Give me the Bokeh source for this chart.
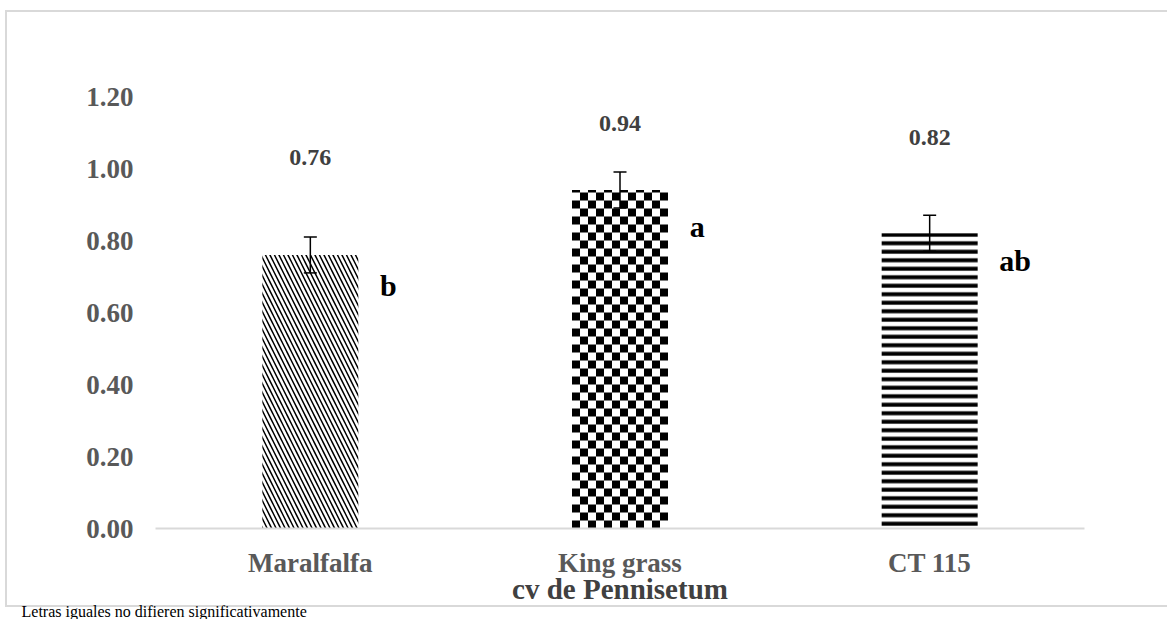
from bokeh.plotting import figure
from bokeh.models import (ColumnDataSource, Whisker, TeeHead, FixedTicker, PrintfTickFormatter,
                          Title, Range1d)
from bokeh.core.properties import value
from bokeh.embed import file_html
from bokeh.resources import INLINE

# ---- data ----
categories = ["Maralfalfa", "King grass", "CT 115"]
means = [0.76, 0.94, 0.82]
errors = [0.05, 0.05, 0.05]
mean_labels = ["0.76", "0.94", "0.82"]
label_heights = [1.03, 1.125, 1.085]
letters = ["b", "a", "ab"]
letter_heights = [0.675, 0.84, 0.745]
y_ticks = [0.0, 0.2, 0.4, 0.6, 0.8, 1.0, 1.2]
x_title = "cv de Pennisetum"
footnote = "Letras iguales no difieren significativamente"

FONT = "Liberation Serif"
BAR_W = 0.31

# category i is centred at i + 0.5 on a numeric axis
xs = [i + 0.5 for i in range(len(categories))]

p = figure(x_range=Range1d(0, len(categories)), y_range=(0, 1.4), width=1167, height=619,
           output_backend="svg", toolbar_location=None,
           min_border_left=155, min_border_right=83, min_border_top=24, min_border_bottom=91)
p.grid.visible = False
p.outline_line_color = None
p.background_fill_color = None
p.border_fill_color = None
# light grey chart-area border drawn behind the transparent canvas
p.styles = {
    "background-color": "white",
    "background-image": ", ".join(["linear-gradient(#d9d9d9, #d9d9d9)"] * 3),
    "background-size": "1170px 2px, 2px 597px, 1170px 2px",
    "background-position": "5px 10px, 5px 10px, 5px 605px",
    "background-repeat": "no-repeat",
}

# Maralfalfa: diagonal lines ; CT 115: horizontal stripes
p.vbar(x=[xs[0]], top=[means[0]], width=BAR_W, fill_color="white", line_color=None,
       hatch_color="black", hatch_pattern="left_diagonal_line", hatch_scale=9, hatch_weight=1.5)
p.vbar(x=[xs[2]], top=[means[2]], width=BAR_W, fill_color="white", line_color=None,
       hatch_color="black", hatch_pattern="horizontal_line", hatch_scale=8.5, hatch_weight=4)

# King grass: checkerboard, cells computed from the bar's value
k = 1
n_cols = 12
cell_w = BAR_W / n_cols
cell_h = cell_w * (929 / 3) / 360.0
left0 = xs[k] - BAR_W / 2
L, R, B, T = [], [], [], []
row = 0
while row * cell_h < means[k] - 1e-9:
    b = row * cell_h
    t = min(b + cell_h, means[k])
    for c in range(n_cols):
        if (row + c) % 2 == 0:
            L.append(left0 + c * cell_w)
            R.append(left0 + (c + 1) * cell_w)
            B.append(b)
            T.append(t)
    row += 1
p.vbar(x=[xs[k]], top=[means[k]], width=BAR_W, fill_color="white", line_color=None)
p.quad(left=L, right=R, bottom=B, top=T, fill_color="black", line_color=None)

src = ColumnDataSource(dict(
    x=xs,
    xl=[x + 0.225 for x in xs],
    upper=[m + e for m, e in zip(means, errors)],
    lower=[m - e for m, e in zip(means, errors)],
    lab_y=label_heights, lab=mean_labels,
    let_y=letter_heights, let=letters,
))
w = Whisker(source=src, base="x", upper="upper", lower="lower", dimension="height",
            line_color="black", line_width=1.5, level="overlay",
            upper_head=TeeHead(size=13, line_color="black", line_width=1.5),
            lower_head=TeeHead(size=13, line_color="black", line_width=1.5))
p.add_layout(w)

p.text(x="x", y="lab_y", text="lab", source=src, text_font=value(FONT),
       text_font_style="bold", text_font_size="24px", text_color="#404040",
       text_align="center", text_baseline="alphabetic")
p.text(x="xl", y="let_y", text="let", source=src,
       text_font=value(FONT), text_font_style="bold", text_font_size="30px",
       text_color="black", text_align="left", text_baseline="alphabetic")

# axes
p.yaxis.ticker = FixedTicker(ticks=y_ticks)
p.yaxis.formatter = PrintfTickFormatter(format="%.2f")
p.yaxis.axis_line_color = None
p.yaxis.major_tick_line_color = None
p.yaxis.minor_tick_line_color = None
p.yaxis.major_tick_out = 0
p.yaxis.major_tick_in = 0
p.yaxis.major_label_standoff = 22
p.yaxis.major_label_text_font = FONT
p.yaxis.major_label_text_font_style = "bold"
p.yaxis.major_label_text_font_size = "27px"
p.yaxis.major_label_text_color = "#595959"

p.xaxis.ticker = FixedTicker(ticks=xs)
p.xaxis.major_label_overrides = {x: c for x, c in zip(xs, categories)}
p.xaxis.axis_line_color = "#d9d9d9"
p.xaxis.axis_line_width = 2
p.xaxis.major_tick_line_color = None
p.xaxis.minor_tick_line_color = None
p.xaxis.major_tick_out = 0
p.xaxis.major_tick_in = 0
p.xaxis.major_label_standoff = 19
p.xaxis.major_label_text_font = FONT
p.xaxis.major_label_text_font_style = "bold"
p.xaxis.major_label_text_font_size = "27px"
p.xaxis.major_label_text_color = "#595959"
p.xaxis.axis_label = x_title
p.xaxis.axis_label_standoff = -8
p.xaxis.axis_label_text_font = FONT
p.xaxis.axis_label_text_font_style = "bold"
p.xaxis.axis_label_text_font_size = "29px"
p.xaxis.axis_label_text_color = "#404040"

# footnote under the chart, shifted to the left edge of the picture
p.add_layout(Title(text=footnote, align="left", offset=21 - 155, standoff=-13,
                   text_font=FONT, text_font_size="16px", text_font_style="normal",
                   text_color="black"), "below")

open("out.html", "w").write(file_html(p, INLINE))
